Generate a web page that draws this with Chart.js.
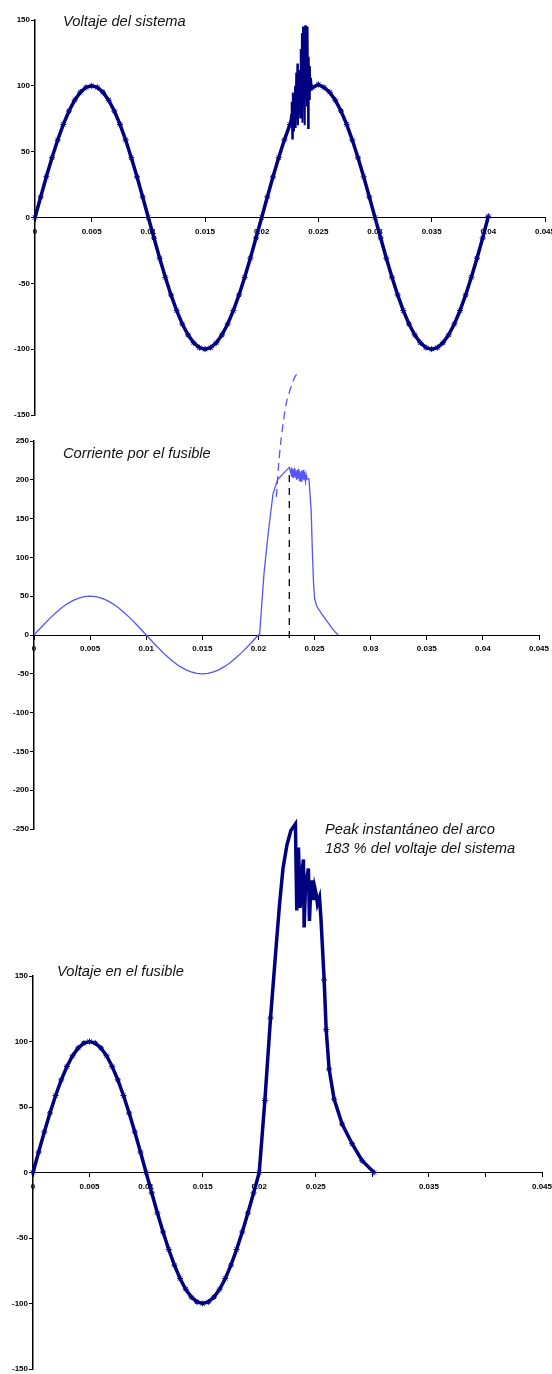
<!DOCTYPE html>
<html>
<head>
<meta charset="utf-8">
<script src="https://cdn.jsdelivr.net/npm/chart.js@4.4.1/dist/chart.umd.min.js"></script>
<style>
body { margin: 0; background: #fff; width: 552px; height: 1374px; position: relative; overflow: hidden; font-family: "Liberation Sans", Arial, sans-serif; }
canvas { position: absolute; left: 0; }
.lbl { position: absolute; font-style: italic; font-size: 14.7px; line-height: 16px; color: #111; white-space: nowrap; }
</style>
</head>
<body>
<canvas id="c1" width="552" height="430" style="top:0"></canvas>
<canvas id="c2" width="552" height="480" style="top:360px"></canvas>
<canvas id="c3" width="552" height="584" style="top:790px"></canvas>
<div class="lbl" style="left:63px;top:13px">Voltaje del sistema</div>
<div class="lbl" style="left:63px;top:445px">Corriente por el fusible</div>
<div class="lbl" style="left:57px;top:963px">Voltaje en el fusible</div>
<div class="lbl" style="left:325px;top:820px;line-height:19px">Peak instantáneo del arco<br>183 % del voltaje del sistema</div>
<script>
// tiempo (s), paso de 0.0005
const tGrid = [0,0.0005,0.001,0.0015,0.002,0.0025,0.003,0.0035,0.004,0.0045,
  0.005,0.0055,0.006,0.0065,0.007,0.0075,0.008,0.0085,0.009,0.0095,
  0.01,0.0105,0.011,0.0115,0.012,0.0125,0.013,0.0135,0.014,0.0145,
  0.015,0.0155,0.016,0.0165,0.017,0.0175,0.018,0.0185,0.019,0.0195,
  0.02,0.0205,0.021,0.0215,0.022,0.0225,0.023,0.0235,0.024,0.0245,
  0.025,0.0255,0.026,0.0265,0.027,0.0275,0.028,0.0285,0.029,0.0295,
  0.03,0.0305,0.031,0.0315,0.032,0.0325,0.033,0.0335,0.034,0.0345,
  0.035,0.0355,0.036,0.0365,0.037,0.0375,0.038,0.0385,0.039,0.0395,0.04];

// voltaje del sistema
const vSistema = [0,15.6,30.9,45.4,58.8,70.7,80.9,89.1,95.1,98.8,
  100,98.8,95.1,89.1,80.9,70.7,58.8,45.4,30.9,15.6,
  0,-15.6,-30.9,-45.4,-58.8,-70.7,-80.9,-89.1,-95.1,-98.8,
  -100,-98.8,-95.1,-89.1,-80.9,-70.7,-58.8,-45.4,-30.9,-15.6,
  0,15.6,30.9,45.4,58.8,70.7,80.9,89.1,95.1,98.8,
  101,98.8,95.1,89.1,80.9,70.7,58.8,45.4,30.9,15.6,
  0,-15.6,-30.9,-45.4,-58.8,-70.7,-80.9,-89.1,-95.1,-98.8,
  -100,-98.8,-95.1,-89.1,-80.9,-70.7,-58.8,-45.4,-30.9,-15.6,1];

// transitorio sobre el voltaje del sistema
const tRuido = [0.0225,0.0226,0.02265,0.0227,0.02275,0.0228,0.02285,0.0229,0.02295,0.023,0.02305,
  0.0231,0.02315,0.0232,0.02325,0.0233,0.02335,0.0234,0.02345,0.0235,0.02355,0.0236,0.02365,
  0.0237,0.02375,0.0238,0.02385,0.0239,0.02395,0.024,0.02405,0.0241,0.02415,0.0242,0.02425,
  0.0243,0.02435,0.0244,0.02445];
const vRuido = [71,78,88,60,95,66,92,70,100,68,110,
  74,117,70,104,80,112,76,128,80,140,72,145,
  90,130,70,146,95,128,85,145,68,122,90,115,
  98,106,100,100];

// corriente por el fusible
const iSeno = [0,7.8,15.5,22.7,29.4,35.4,40.5,44.6,47.6,49.4,
  50,49.4,47.6,44.6,40.5,35.4,29.4,22.7,15.5,7.8,
  0,-7.8,-15.5,-22.7,-29.4,-35.4,-40.5,-44.6,-47.6,-49.4,
  -50,-49.4,-47.6,-44.6,-40.5,-35.4,-29.4,-22.7,-15.5,-7.8,0];
const tFalla = [0.0201,0.0205,0.0209,0.0213,0.0217,0.0222,0.02275,0.0229,0.02295,0.023,0.02305,
  0.0231,0.0232,0.02325,0.0233,0.0234,0.02345,0.0235,0.0236,0.02365,0.0237,0.0238,0.02385,
  0.0239,0.024,0.02405,0.0241,0.0242,0.02425,0.0243,0.0245,0.0247,0.0248,0.0249,0.025,
  0.0252,0.0256,0.0262,0.0267,0.0271];
const iFalla = [0,80,135,182,200,208,216,208,216,204,214,
  202,215,203,212,200,213,201,214,199,211,198,212,
  200,213,199,210,198,206,201,201,160,110,70,47,
  37,28,16,6,0];

// corriente presunta (trazos)
const tPresunta = [0.0216,0.0218,0.022,0.0222,0.0225,0.0228,0.0231,0.0235];
const iPresunta = [178,220,250,273,300,315,328,339];
const tCorte = [0.02275,0.02275];
const iCorte = [-4,210];

// voltaje en el fusible
const tArco = [0.0205,0.021,0.0215,0.0218,0.0221,0.02245,0.0228,0.0232,0.02332,0.02347,0.02362,
  0.02375,0.02391,0.02397,0.0241,0.02435,0.02444,0.02455,0.02465,0.02479,0.0249,0.02503,
  0.02515,0.02533,0.02545,0.02556,0.02574,0.02592,0.02618,0.02662,0.02733,0.02821,0.0291,0.03015];
const vArco = [55,118,173,205,232,250,261,266,200,248,202,
  228,239,187,220,232,192,215,223,208,218,213,
  205,210,195,177,147,109,79,56,37,22,9,0];

const navy = "#000080";
const azul = "#5555f5";
const fuenteTicks = { family: "Arial", size: 8, weight: "bold" };

function puntos(ts, vs) {
    return ts.map((t, i) => ({ x: t, y: vs[i] }));
}

function ejes(yMin, yMax, anchoY, ocultarX) {
    return {
        x: {
            type: "linear", min: 0, max: 0.045, position: { y: 0 },
            ticks: {
                stepSize: 0.005, autoSkip: false, maxRotation: 0, padding: 5,
                color: "#000", font: fuenteTicks,
                callback: v => {
                    const s = parseFloat(v.toFixed(3));
                    return ocultarX.includes(s) ? "" : String(s);
                }
            },
            grid: { drawOnChartArea: false, tickLength: 4, color: "#000" },
            border: { color: "#000", width: 1 },
            afterFit: s => { s.paddingLeft = 0; s.paddingRight = 0; }
        },
        y: {
            min: yMin, max: yMax, position: "left",
            ticks: { stepSize: 50, padding: 1, color: "#000", font: fuenteTicks },
            grid: { drawOnChartArea: false, tickLength: 4, color: "#000" },
            border: { color: "#000", width: 1.5 },
            afterFit: s => { s.width = anchoY; s.paddingTop = 0; s.paddingBottom = 0; }
        }
    };
}

function grafico(id, datasets, scales, padding) {
    new Chart(document.getElementById(id), {
        type: "line",
        data: { datasets },
        options: {
            responsive: false,
            animation: false,
            devicePixelRatio: 1,
            events: [],
            layout: { padding },
            plugins: { legend: { display: false }, tooltip: { enabled: false } },
            scales
        }
    });
}

const lineaGruesa = {
    borderColor: navy, borderWidth: 3.5, tension: 0, clip: false,
    pointStyle: "star", pointRadius: 3, pointBorderColor: navy, pointBorderWidth: 1, pointBackgroundColor: navy
};

// 1: voltaje del sistema
grafico("c1", [
    { ...lineaGruesa, data: puntos(tGrid, vSistema) },
    { data: puntos(tRuido, vRuido), borderColor: navy, borderWidth: 2, pointRadius: 0, tension: 0 }
], ejes(-150, 150, 35, []), { top: 20, bottom: 15, left: 0, right: 7 });

// 2: corriente por el fusible
grafico("c2", [
    { data: puntos(tGrid.slice(0, 41).concat(tFalla), iSeno.concat(iFalla)),
      borderColor: azul, borderWidth: 1.3, pointRadius: 0, tension: 0 },
    { data: puntos(tPresunta, iPresunta), borderColor: azul, borderWidth: 1.3, borderDash: [8, 5],
      pointRadius: 0, tension: 0.3, clip: false },
    { data: puntos(tCorte, iCorte), borderColor: "#000", borderWidth: 1.3, borderDash: [7, 6],
      pointRadius: 0, tension: 0 }
], ejes(-250, 250, 34, []), { top: 81, bottom: 11, left: 0, right: 13 });

// 3: voltaje en el fusible
grafico("c3", [
    { ...lineaGruesa,
      data: puntos(tGrid.slice(0, 41).concat(tArco), vSistema.slice(0, 41).concat(vArco)),
      pointRadius: c => (c.raw && c.raw.x > 0.0232 && c.raw.x < 0.02556) ? 0 : 3 }
], ejes(-150, 150, 33, [0.03, 0.04]), { top: 186, bottom: 2, left: 0, right: 10 });
</script>
</body>
</html>
